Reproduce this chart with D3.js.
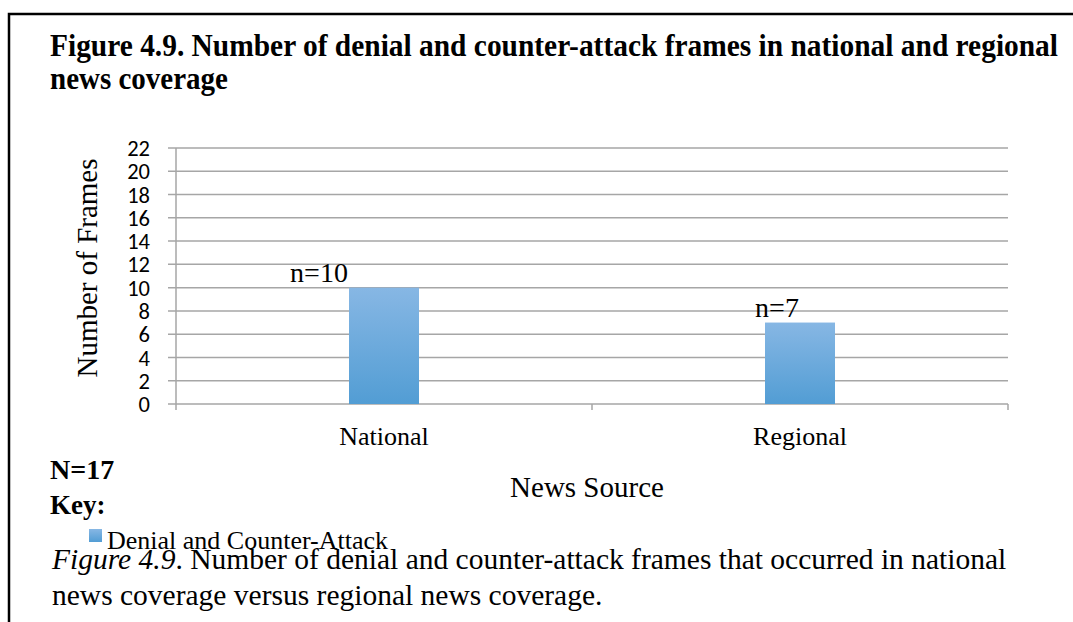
<!DOCTYPE html>
<html>
<head>
<meta charset="utf-8">
<script src="https://cdn.jsdelivr.net/npm/d3@7"></script>
<style>
  html, body { margin: 0; padding: 0; background: #fff; }
  svg { display: block; }
</style>
</head>
<body>
<svg id="chart" width="1073" height="622"></svg>
<script>
// Data
const categories = ["National", "Regional"];
const frameCounts = [10, 7];
const valueLabels = ["n=10", "n=7"];
const yTicks = [0, 2, 4, 6, 8, 10, 12, 14, 16, 18, 20, 22];
const seriesName = "Denial and Counter-Attack";

// Label nudges relative to each bar's centre (layout only)
const labelDx = [-65, -23];

const svg = d3.select("#chart");
const serif = "'Times New Roman', 'Liberation Serif', Times, serif";
const sans = "Carlito, 'Liberation Sans', Arial, sans-serif";

// Outer frame of the figure box
svg.append("path")
  .attr("d", "M9,700 V14 H1100")
  .attr("fill", "none")
  .attr("stroke", "#000")
  .attr("stroke-width", 2.5);

// Heading
svg.append("text")
  .attr("x", 50).attr("y", 56)
  .attr("font-family", serif).attr("font-weight", "bold").attr("font-size", 31)
  .attr("textLength", 1008).attr("lengthAdjust", "spacingAndGlyphs")
  .text("Figure 4.9. Number of denial and counter-attack frames in national and regional");
svg.append("text")
  .attr("x", 50).attr("y", 89)
  .attr("font-family", serif).attr("font-weight", "bold").attr("font-size", 31)
  .attr("textLength", 178).attr("lengthAdjust", "spacingAndGlyphs")
  .text("news coverage");

// Plot geometry
const plot = { left: 176, right: 1008, top: 148, bottom: 404 };

const x = d3.scaleBand()
  .domain(categories)
  .range([plot.left, plot.right])
  .paddingInner(0)
  .paddingOuter(0);

const barW = 70;

const y = d3.scaleLinear()
  .domain([0, 22])
  .range([plot.bottom, plot.top]);

// Gridlines
svg.append("g")
  .selectAll("line")
  .data(yTicks)
  .join("line")
  .attr("x1", plot.left - 8).attr("x2", plot.right)
  .attr("y1", d => y(d)).attr("y2", d => y(d))
  .attr("stroke", "#a6a6a6").attr("stroke-width", 1.5);

// Y axis line
svg.append("line")
  .attr("x1", plot.left).attr("x2", plot.left)
  .attr("y1", plot.top).attr("y2", plot.bottom + 6)
  .attr("stroke", "#a6a6a6").attr("stroke-width", 1.5);

// X category boundary ticks
const bounds = categories.map(c => x(c) + x.bandwidth());
svg.append("g")
  .selectAll("line")
  .data(bounds)
  .join("line")
  .attr("x1", d => d).attr("x2", d => d)
  .attr("y1", plot.bottom).attr("y2", plot.bottom + 6)
  .attr("stroke", "#a6a6a6").attr("stroke-width", 1.5);

// Y tick labels
svg.append("g")
  .selectAll("text")
  .data(yTicks)
  .join("text")
  .attr("x", 150)
  .attr("y", d => y(d))
  .attr("dy", "0.36em")
  .attr("text-anchor", "end")
  .attr("font-family", sans).attr("font-size", 22.5)
  .attr("fill", "#000")
  .text(d => d);

// Bar gradient
const defs = svg.append("defs");
const grad = defs.append("linearGradient")
  .attr("id", "barFill")
  .attr("x1", 0).attr("y1", 0).attr("x2", 0).attr("y2", 1);
grad.append("stop").attr("offset", "0%").attr("stop-color", "#87b7e4");
grad.append("stop").attr("offset", "100%").attr("stop-color", "#529dd4");

// Bars
svg.append("g")
  .selectAll("rect")
  .data(categories)
  .join("rect")
  .attr("x", c => x(c) + x.bandwidth() / 2 - barW / 2)
  .attr("width", barW)
  .attr("y", (c, i) => y(frameCounts[i]))
  .attr("height", (c, i) => y(0) - y(frameCounts[i]))
  .attr("fill", "url(#barFill)");

// Value labels
svg.append("g")
  .selectAll("text")
  .data(categories)
  .join("text")
  .attr("x", (c, i) => x(c) + x.bandwidth() / 2 + labelDx[i])
  .attr("y", (c, i) => y(frameCounts[i]) - 6)
  .attr("text-anchor", "middle")
  .attr("font-family", serif).attr("font-size", 28)
  .text((c, i) => valueLabels[i]);

// Category labels
svg.append("g")
  .selectAll("text")
  .data(categories)
  .join("text")
  .attr("x", c => x(c) + x.bandwidth() / 2)
  .attr("y", 445)
  .attr("text-anchor", "middle")
  .attr("font-family", serif).attr("font-size", 26)
  .text(c => c);

// Axis titles
svg.append("text")
  .attr("x", 587).attr("y", 497)
  .attr("text-anchor", "middle")
  .attr("font-family", serif).attr("font-size", 29)
  .text("News Source");

svg.append("text")
  .attr("transform", `translate(97, ${(plot.top + plot.bottom) / 2 - 8}) rotate(-90)`)
  .attr("text-anchor", "middle")
  .attr("font-family", serif).attr("font-size", 29)
  .text("Number of Frames");

// Sample size and key
svg.append("text")
  .attr("x", 50).attr("y", 479)
  .attr("font-family", serif).attr("font-weight", "bold").attr("font-size", 28)
  .text("N=17");
svg.append("text")
  .attr("x", 50).attr("y", 514)
  .attr("font-family", serif).attr("font-weight", "bold").attr("font-size", 27)
  .text("Key:");

const legend = svg.append("g").attr("transform", "translate(89, 529)");
legend.append("rect")
  .attr("width", 13).attr("height", 13)
  .attr("fill", "url(#barFill)");
legend.append("text")
  .attr("x", 18).attr("y", 20)
  .attr("font-family", serif).attr("font-size", 26)
  .text(seriesName);

// Caption
const cap1 = svg.append("text")
  .attr("x", 52).attr("y", 569)
  .attr("font-family", serif).attr("font-size", 29.5);
cap1.append("tspan").attr("font-style", "italic").text("Figure 4.9");
cap1.append("tspan").text(". Number of denial and counter-attack frames that occurred in national");

svg.append("text")
  .attr("x", 52).attr("y", 605)
  .attr("font-family", serif).attr("font-size", 29.5)
  .text("news coverage versus regional news coverage.");
</script>
</body>
</html>
